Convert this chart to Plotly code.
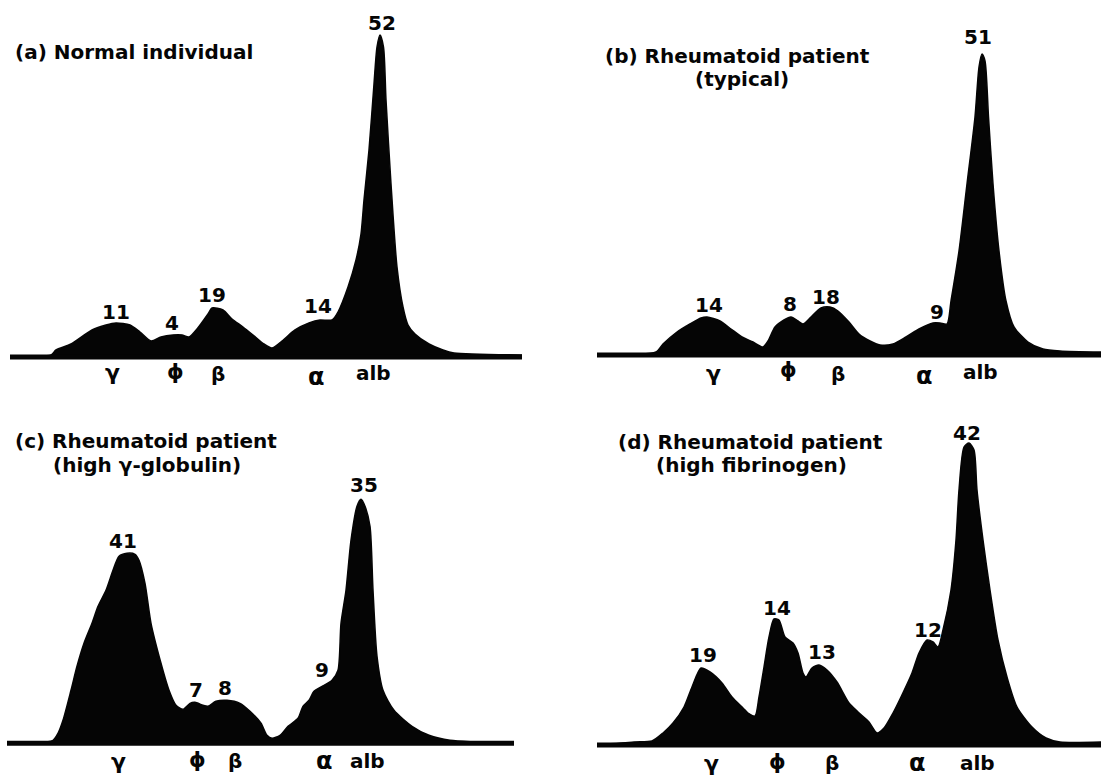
import plotly.graph_objects as go

# ---------------- data ----------------
# x: position along the strip, y: optical density (arbitrary units)
a_x = [10, 51, 56, 71, 92, 106, 116, 130, 140, 151, 161, 173, 182, 189, 197, 208, 212, 223, 232, 243,
       253, 264, 272, 282, 295, 309, 320, 332, 338, 348, 356, 361, 364, 369, 374, 377, 380, 383.5, 386, 391,
       397, 403, 408, 415, 429, 443, 454, 522]
a_y = [0, 2, 7, 13, 27, 32, 34, 32, 25, 16, 20, 22, 22, 20, 28, 43, 49, 47, 38, 30,
       22, 13, 9, 16, 27, 34, 37, 37, 45, 70, 97, 123, 157, 207, 273, 310, 322, 310, 257, 173,
       90, 50, 32, 23, 13, 7, 4, 2]

b_x = [47, 106, 113, 127, 140, 151, 157, 170, 181, 192, 203, 213, 218, 225, 234, 241, 248, 253, 261, 271,
       280, 288, 299, 309, 320, 330, 343, 356, 369, 383, 390, 397, 401, 409, 417, 425, 429, 432, 435, 438.5,
       443, 449, 456, 464, 478, 493, 510, 551]
b_y = [0, 3, 11, 23, 31, 37, 38, 34, 26, 18, 13, 8, 14, 28, 35, 38, 34, 31, 38, 47,
       48, 44, 33, 21, 14, 10, 11, 18, 26, 32, 32, 31, 54, 104, 171, 238, 288, 301, 294, 238,
       171, 104, 54, 28, 13, 6, 4, 3]

c_x = [7, 53, 58, 63, 71, 77, 84, 92, 98, 106, 113, 119, 127, 135, 139, 145, 151, 161, 169, 176,
       183, 190, 195, 203, 208, 216, 227, 240, 250, 261, 267, 272, 280, 288, 298, 303, 309, 314, 324, 332,
       338, 341, 346, 351, 357, 361, 365, 370, 373, 377, 383, 394, 412, 429, 450, 514]
c_y = [0, 3, 10, 23, 53, 77, 100, 120, 137, 153, 173, 187, 190, 189, 183, 160, 120, 80, 53, 38,
       34, 40, 41, 38, 37, 42, 43, 40, 32, 20, 8, 5, 8, 17, 25, 37, 43, 52, 58, 63,
       73, 120, 153, 203, 237, 244, 237, 217, 153, 87, 53, 33, 17, 8, 3, 0]

d_x = [47, 84, 102, 113, 123, 134, 142, 151, 160, 172, 182, 193, 198, 205, 209, 214, 219, 224, 229, 235,
       243, 248, 253, 256, 262, 269, 277, 287, 299, 308, 319, 327, 334, 343, 351, 362, 369, 377, 383, 388,
       393, 401, 406, 409, 414, 419, 424, 427, 433, 440, 448, 457, 467, 482, 496, 510, 551]
d_y = [0, 3, 4, 12, 22, 38, 58, 77, 73, 62, 48, 37, 32, 29, 48, 78, 108, 126, 125, 108,
       102, 92, 72, 68, 77, 80, 75, 63, 42, 33, 23, 12, 17, 32, 48, 72, 92, 105, 103, 98,
       115, 155, 205, 255, 298, 302, 295, 255, 205, 155, 105, 68, 38, 18, 7, 3, 3]

# peak percentages written above the traces
a_peaks = ["11", "4", "19", "14", "52"]
b_peaks = ["14", "8", "18", "9", "51"]
c_peaks = ["41", "7", "8", "9", "35"]
d_peaks = ["19", "14", "13", "12", "42"]

# fraction names under the baseline
fractions = ["γ", "ϕ", "β", "α", "alb"]

titles = {
    "a": ["(a) Normal individual"],
    "b": ["(b) Rheumatoid patient", "(typical)"],
    "c": ["(c) Rheumatoid patient", "(high γ-globulin)"],
    "d": ["(d) Rheumatoid patient", "(high fibrinogen)"],
}

# ---------------- layout / placement ----------------
W, H = 1101, 777
FONT = "DejaVu Sans"
INK = "#050505"
BELOW = 32  # room under each baseline for the fraction names
FRAC_SIZE = [22, 21, 20, 24, 20]  # greek letters are drawn large in the original lettering

panels = [
    dict(key="a", x=a_x, y=a_y, peaks=a_peaks, left=0, width=550, top=0, base=357,
         peak_pos=[(116, 45), (172, 34), (212, 62), (318, 51), (382, 334)],
         frac_pos=[(112, -15), (175, -15), (218, -17), (316, -20), (373, -16)],
         title_pos=[(13, 305, "left")]),
    dict(key="b", x=b_x, y=b_y, peaks=b_peaks, left=550, width=551, top=0, base=355,
         peak_pos=[(159, 50), (240, 51), (276, 58), (387, 43), (428, 318)],
         frac_pos=[(163, -18), (238, -15), (288, -19), (374, -21), (430, -17)],
         title_pos=[(53, 299, "left"), (192, 276, "center")]),
    dict(key="c", x=c_x, y=c_y, peaks=c_peaks, left=0, width=550, top=390, base=743.3,
         peak_pos=[(123, 202), (196, 53), (225, 55), (322, 73), (364, 258)],
         frac_pos=[(118, -18), (197, -17), (235, -18), (324, -18), (367, -18)],
         title_pos=[(13, 302, "left"), (147, 278, "center")]),
    dict(key="d", x=d_x, y=d_y, peaks=d_peaks, left=550, width=551, top=390, base=745,
         peak_pos=[(153, 90), (227, 137), (272, 93), (378, 115), (417, 312)],
         frac_pos=[(161, -18), (227, -17), (282, -18), (367, -18), (427, -18)],
         title_pos=[(66, 303, "left"), (201, 280, "center")]),
]

fig = go.Figure()
annotations = []
layout_axes = {}

for i, p in enumerate(panels):
    n = "" if i == 0 else str(i + 1)
    xa, ya = "x" + n, "y" + n
    # filled densitometer trace
    fig.add_trace(go.Scatter(
        x=p["x"], y=p["y"], xaxis=xa, yaxis=ya, mode="lines",
        line=dict(color=INK, width=1.5, shape="spline", smoothing=0.7),
        fill="tozeroy", fillcolor=INK, hoverinfo="skip", showlegend=False))
    # thick baseline across the trace extent
    fig.add_trace(go.Scatter(
        x=[p["x"][0], p["x"][-1]], y=[0, 0], xaxis=xa, yaxis=ya, mode="lines",
        line=dict(color=INK, width=5), hoverinfo="skip", showlegend=False))

    layout_axes["xaxis" + n] = dict(
        domain=[p["left"] / W, (p["left"] + p["width"]) / W], range=[0, p["width"]],
        visible=False, fixedrange=True, anchor=ya)
    layout_axes["yaxis" + n] = dict(
        domain=[(H - p["base"] - BELOW) / H, (H - p["top"]) / H],
        range=[-BELOW, p["base"] - p["top"]],
        visible=False, fixedrange=True, anchor=xa)

    for txt, (px, py) in zip(p["peaks"], p["peak_pos"]):
        annotations.append(dict(x=px, y=py, xref=xa, yref=ya, text=txt, showarrow=False,
                                xanchor="center", yanchor="middle",
                                font=dict(family=FONT, size=20, color=INK, weight="bold")))
    for txt, (px, py), fs in zip(fractions, p["frac_pos"], FRAC_SIZE):
        annotations.append(dict(x=px, y=py, xref=xa, yref=ya, text=txt, showarrow=False,
                                xanchor="center", yanchor="middle", borderpad=0,
                                font=dict(family=FONT, size=fs, color=INK, weight="bold")))
    for txt, (px, py, anc) in zip(titles[p["key"]], p["title_pos"]):
        annotations.append(dict(x=px, y=py, xref=xa, yref=ya, text=txt, showarrow=False,
                                xanchor=anc, yanchor="middle",
                                font=dict(family=FONT, size=20, color=INK, weight="bold")))

fig.update_layout(
    width=W, height=H, margin=dict(l=0, r=0, t=0, b=0),
    paper_bgcolor="white", plot_bgcolor="white",
    showlegend=False, annotations=annotations, **layout_axes)

fig.write_html(
    "out.html",
    config={"displayModeBar": False, "staticPlot": True},
    post_script="document.body.style.margin='0';document.body.style.overflow='hidden';")
